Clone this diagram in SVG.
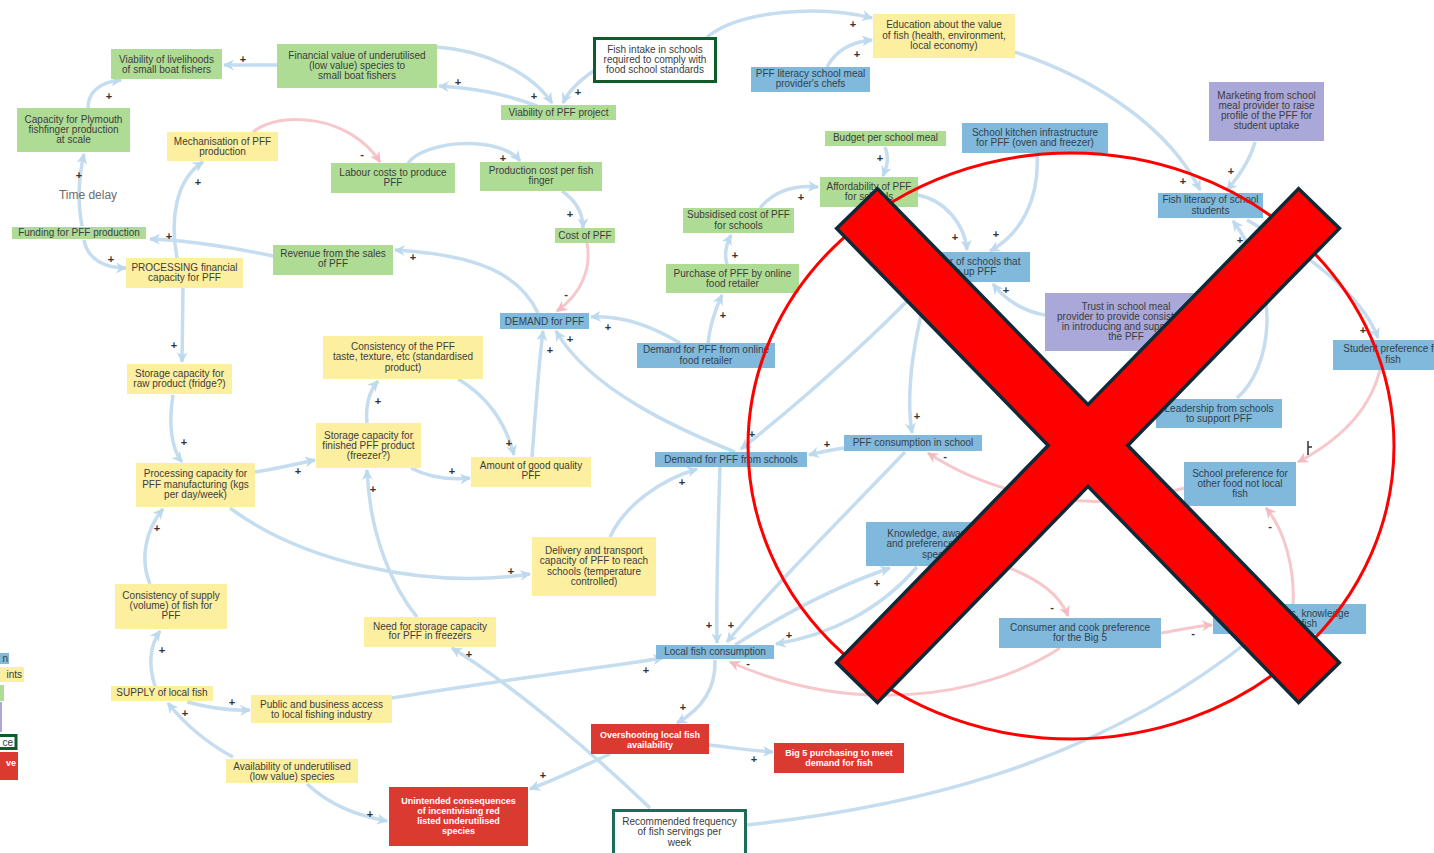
<svg xmlns="http://www.w3.org/2000/svg" width="1434" height="853" viewBox="0 0 1434 853">
<defs>
<style>
.g{fill:#afdc95}.y{fill:#fcefa0}.b{fill:#80b9db}.p{fill:#aaa8d8}.r{fill:#db3a31}
.t{font-family:"Liberation Sans",Arial,sans-serif;font-size:10px;fill:#3c3c3c;text-anchor:middle}
.tb{fill:#33414d}
.w{fill:#fff;font-weight:bold;font-size:9px}
.c{fill:none;stroke:#c5ddef;stroke-width:3.5}
.n{fill:none;stroke:#f6c8cc;stroke-width:3}
.s{font-family:"Liberation Sans",Arial,sans-serif;font-size:11px;fill:#333;text-anchor:middle;font-weight:bold}
</style>
<marker id="ab" viewBox="0 0 10 10" refX="9" refY="5" markerWidth="11" markerHeight="11" markerUnits="userSpaceOnUse" orient="auto"><path d="M0,0 L10,5 L0,10 L3,5 z" fill="#bcd9ee"/></marker>
<marker id="ap" viewBox="0 0 10 10" refX="9" refY="5" markerWidth="11" markerHeight="11" markerUnits="userSpaceOnUse" orient="auto"><path d="M0,0 L10,5 L0,10 L3,5 z" fill="#f4bcc2"/></marker>
</defs>
<rect width="1434" height="853" fill="#fff"/>

<g id="connectors">
<g class="c" marker-end="url(#ab)">
<path d="M277,65 L224,65"/>
<path d="M88,108 C88,92 100,82 121,80"/>
<path d="M82,226 C78,205 78,180 84,154"/>
<path d="M84,240 C88,260 105,268 126,268"/>
<path d="M273,256 C220,245 185,240 150,239"/>
<path d="M177,258 C170,220 175,180 203,162"/>
<path d="M408,163 C425,140 500,135 520,161"/>
<path d="M562,191 C575,200 583,212 583,228"/>
<path d="M538,313 C520,275 480,255 395,250"/>
<path d="M537,106 C500,92 470,88 439,86"/>
<path d="M437,47 C480,50 530,70 552,103"/>
<path d="M595,70 C580,80 568,92 563,103"/>
<path d="M707,37 C740,10 820,5 872,18"/>
<path d="M827,67 C835,52 850,42 872,40"/>
<path d="M1015,52 C1100,80 1170,130 1200,190"/>
<path d="M1255,142 C1250,160 1240,175 1227,190"/>
<path d="M885,147 C890,160 886,168 883,176"/>
<path d="M760,208 C775,190 795,185 818,187"/>
<path d="M727,264 C724,255 726,245 731,235"/>
<path d="M708,343 C710,325 715,310 722,295"/>
<path d="M680,343 C650,325 620,315 591,317"/>
<path d="M532,457 C535,420 538,370 543,331"/>
<path d="M735,452 C680,430 590,390 556,331"/>
<path d="M458,379 C485,395 505,420 514,455"/>
<path d="M367,423 C365,405 370,390 378,381"/>
<path d="M411,468 C430,478 450,480 470,478"/>
<path d="M255,472 C280,468 300,463 315,460"/>
<path d="M183,288 L182,362"/>
<path d="M173,395 C168,425 172,450 182,462"/>
<path d="M230,508 C300,560 420,590 530,574"/>
<path d="M417,617 C395,590 370,540 367,470"/>
<path d="M610,537 C625,505 660,480 697,469"/>
<path d="M150,584 C140,560 145,530 163,509"/>
<path d="M155,686 C148,665 150,645 160,631"/>
<path d="M187,702 C210,708 230,711 250,710"/>
<path d="M233,757 C210,745 185,725 168,703"/>
<path d="M307,784 C330,805 355,815 387,821"/>
<path d="M392,698 C500,680 600,668 663,658"/>
<path d="M650,808 C600,760 520,690 452,648"/>
<path d="M610,754 C585,765 560,778 530,789"/>
<path d="M709,745 C735,748 755,751 773,752"/>
<path d="M715,660 C716,690 700,710 677,723"/>
<path d="M720,467 C718,530 716,590 717,643"/>
<path d="M905,452 C840,520 770,590 727,642"/>
<path d="M925,283 C860,350 790,410 741,449"/>
<path d="M930,283 C915,330 905,390 912,433"/>
<path d="M918,195 C945,200 965,225 967,250"/>
<path d="M1037,153 C1040,200 1020,235 990,251"/>
<path d="M1045,315 C1025,312 1005,300 993,284"/>
<path d="M1237,398 C1270,370 1285,290 1233,221"/>
<path d="M1247,220 C1300,250 1360,290 1378,338"/>
<path d="M735,645 C790,610 840,585 890,568"/>
<path d="M917,567 C880,610 830,635 776,644"/>
<path d="M844,448 C830,450 820,452 809,455"/>
<path d="M747,825 C900,808 1090,770 1255,636"/>
</g>
<g class="n" marker-end="url(#ap)">
<path d="M253,132 C280,110 350,115 380,162"/>
<path d="M587,243 C592,270 580,295 557,311"/>
<path d="M1380,370 C1370,410 1340,440 1298,462"/>
<path d="M1293,604 C1295,570 1285,530 1266,508"/>
<path d="M1161,633 C1180,630 1195,626 1212,625"/>
<path d="M1007,567 C1040,580 1060,595 1068,616"/>
<path d="M1184,488 C1100,515 1000,500 928,453"/>
<path d="M1060,648 C980,700 850,715 730,662"/>
</g>
<g class="s">
<text x="243" y="63">+</text><text x="109" y="100">+</text><text x="79" y="179">+</text>
<text x="111" y="263">+</text><text x="169" y="240">+</text><text x="198" y="186">+</text>
<text x="503" y="162">+</text><text x="570" y="218">+</text><text x="413" y="261">+</text>
<text x="458" y="86">+</text><text x="534" y="100">+</text><text x="578" y="96">+</text>
<text x="853" y="28">+</text><text x="857" y="58">+</text><text x="1183" y="185">+</text>
<text x="1231" y="175">+</text><text x="880" y="162">+</text><text x="801" y="201">+</text>
<text x="735" y="259">+</text><text x="723" y="319">+</text><text x="608" y="331">+</text>
<text x="550" y="354">+</text><text x="570" y="343">+</text><text x="509" y="447">+</text>
<text x="378" y="405">+</text><text x="452" y="475">+</text><text x="298" y="475">+</text>
<text x="174" y="349">+</text><text x="184" y="446">+</text><text x="511" y="575">+</text>
<text x="373" y="493">+</text><text x="682" y="486">+</text><text x="157" y="532">+</text>
<text x="162" y="654">+</text><text x="232" y="706">+</text><text x="185" y="717">+</text>
<text x="370" y="818">+</text><text x="646" y="674">+</text><text x="469" y="658">+</text>
<text x="543" y="779">+</text><text x="754" y="763">+</text><text x="683" y="711">+</text>
<text x="709" y="629">+</text><text x="731" y="629">+</text><text x="752" y="438">+</text>
<text x="917" y="420">+</text><text x="955" y="241">+</text><text x="996" y="238">+</text>
<text x="1006" y="294">+</text><text x="1240" y="244">+</text><text x="1363" y="334">+</text>
<text x="877" y="587">+</text><text x="789" y="639">+</text><text x="827" y="448">+</text>
<text x="362" y="158">-</text><text x="566" y="298">-</text><text x="1270" y="530">-</text>
<text x="1193" y="637">-</text><text x="1052" y="611">-</text><text x="945" y="460">-</text>
<text x="748" y="667">-</text>
</g>
<path d="M1308,441 V455 M1308,447 H1312" stroke="#333" stroke-width="1.5" fill="none"/>
</g>

<g id="n-livelihoods"><rect class="g" x="111" y="49" width="111" height="30"/><text class="t" x="166.5" y="62.5">Viability of livelihoods<tspan x="166.5" dy="10">of small boat fishers</tspan></text></g>
<g id="n-financial"><rect class="g" x="277" y="44" width="160" height="44"/><text class="t" x="357" y="59">Financial value of underutilised<tspan x="357" dy="10">(low value) species to</tspan><tspan x="357" dy="10">small boat fishers</tspan></text></g>
<g id="n-capacity"><rect class="g" x="17" y="108" width="113" height="44"/><text class="t" x="73.5" y="123">Capacity for Plymouth<tspan x="73.5" dy="10">fishfinger production</tspan><tspan x="73.5" dy="10">at scale</tspan></text></g>
<g id="n-mechanisation"><rect class="y" x="167" y="132" width="111" height="29"/><text class="t" x="222.5" y="144.5">Mechanisation of PFF<tspan x="222.5" dy="10.5">production</tspan></text></g>
<g id="n-labour"><rect class="g" x="331" y="163" width="124" height="30"/><text class="t" x="393" y="176">Labour costs to produce<tspan x="393" dy="9.5">PFF</tspan></text></g>
<text id="time-delay" x="88" y="199" font-family="Liberation Sans, Arial, sans-serif" font-size="12" fill="#6c6c6c" text-anchor="middle">Time delay</text>
<g id="n-funding"><rect class="g" x="12" y="227" width="134" height="12"/><text class="t" x="79" y="236">Funding for PFF production</text></g>
<g id="n-revenue"><rect class="g" x="273" y="245" width="120" height="30"/><text class="t" x="333" y="257">Revenue from the sales<tspan x="333" dy="10">of PFF</tspan></text></g>
<g id="n-processing-fin"><rect class="y" x="126" y="258" width="117" height="30"/><text class="t" x="184.5" y="271">PROCESSING financial<tspan x="184.5" dy="10">capacity for PFF</tspan></text></g>
<g id="n-fish-intake"><rect x="594.5" y="38.5" width="121" height="43" fill="#fff" stroke="#0e5c2a" stroke-width="3"/><text class="t" x="655" y="52.5" fill="#555">Fish intake in schools<tspan x="655" dy="10">required to comply with</tspan><tspan x="655" dy="10">food school standards</tspan></text></g>
<g id="n-viability-pff"><rect class="g" x="501" y="105" width="115" height="15"/><text class="t" x="558.5" y="115.5">Viability of PFF project</text></g>
<g id="n-education"><rect class="y" x="873" y="14" width="142" height="44"/><text class="t" x="944" y="28">Education about the value<tspan x="944" dy="10.5">of fish (health, environment,</tspan><tspan x="944" dy="10.5">local economy)</tspan></text></g>
<g id="n-pff-literacy"><rect class="b" x="751" y="67" width="119" height="25"/><text class="t tb" x="810.5" y="77">PFF literacy school meal<tspan x="810.5" dy="10">provider's chefs</tspan></text></g>
<g id="n-budget"><rect class="g" x="825" y="131" width="121" height="15"/><text class="t" x="885.5" y="141">Budget per school meal</text></g>
<g id="n-production-cost"><rect class="g" x="480" y="162" width="122" height="29"/><text class="t" x="541" y="173.5">Production cost per fish<tspan x="541" dy="10.5">finger</tspan></text></g>
<g id="n-cost"><rect class="g" x="555" y="228" width="60" height="15"/><text class="t" x="585" y="239">Cost of PFF</text></g>
<g id="n-affordability"><rect class="g" x="820" y="177" width="98" height="30"/><text class="t" x="869" y="190">Affordability of PFF<tspan x="869" dy="9.5">for schools</tspan></text></g>
<g id="n-subsidised"><rect class="g" x="683" y="208" width="111" height="25"/><text class="t" x="738.5" y="218">Subsidised cost of PFF<tspan x="738.5" dy="10.5">for schools</tspan></text></g>
<g id="n-purchase"><rect class="g" x="666" y="264" width="133" height="29"/><text class="t" x="732.5" y="277">Purchase of PFF by online<tspan x="732.5" dy="9.5">food retailer</tspan></text></g>
<g id="n-kitchen"><rect class="b" x="962" y="123" width="146" height="30"/><text class="t tb" x="1035" y="136">School kitchen infrastructure<tspan x="1035" dy="10">for PFF (oven and freezer)</tspan></text></g>
<g id="n-marketing"><rect class="p" x="1209" y="82" width="115" height="59"/><text class="t" x="1266.5" y="98.5">Marketing from school<tspan x="1266.5" dy="10.3">meal provider to raise</tspan><tspan x="1266.5" dy="10.3">profile of the PFF for</tspan><tspan x="1266.5" dy="10.3">student uptake</tspan></text></g>
<g id="n-fish-literacy"><rect class="b" x="1158" y="193" width="105" height="25"/><text class="t tb" x="1210.5" y="203">Fish literacy of school<tspan x="1210.5" dy="10.5">students</tspan></text></g>
<g id="n-number-schools"><rect class="b" x="908" y="252" width="122" height="30"/><text class="t tb" x="969" y="264.5">Number of schools that<tspan x="969" dy="10.5">take up PFF</tspan></text></g>
<g id="n-trust"><rect class="p" x="1045" y="293" width="162" height="58"/><text class="t" x="1126" y="309.5">Trust in school meal<tspan x="1126" dy="10">provider to provide consistency</tspan><tspan x="1126" dy="10">in introducing and supporting</tspan><tspan x="1126" dy="10.5">the PFF</tspan></text></g>
<g id="n-student-pref"><rect class="b" x="1333" y="340" width="120" height="30"/><text class="t tb" x="1393" y="352">Student preference for<tspan x="1393" dy="10.5">fish</tspan></text></g>
<g id="n-leadership"><rect class="b" x="1156" y="399" width="126" height="29"/><text class="t tb" x="1219" y="412">Leadership from schools<tspan x="1219" dy="10">to support PFF</tspan></text></g>
<g id="n-school-pref"><rect class="b" x="1184" y="462" width="112" height="44"/><text class="t tb" x="1240" y="477">School preference for<tspan x="1240" dy="10">other food not local</tspan><tspan x="1240" dy="10">fish</tspan></text></g>
<g id="n-demand"><rect class="b" x="500" y="313" width="89" height="16"/><text class="t tb" x="544.5" y="324.5">DEMAND for PFF</text></g>
<g id="n-demand-online"><rect class="b" x="637" y="343" width="138" height="25"/><text class="t tb" x="706" y="353">Demand for PFF from online<tspan x="706" dy="10.5">food retailer</tspan></text></g>
<g id="n-amount"><rect class="y" x="471" y="457" width="120" height="30"/><text class="t" x="531" y="469">Amount of good quality<tspan x="531" dy="10">PFF</tspan></text></g>
<g id="n-demand-schools"><rect class="b" x="655" y="452" width="152" height="15"/><text class="t tb" x="731" y="462.5">Demand for PFF from schools</text></g>
<g id="n-consumption-school"><rect class="b" x="844" y="435" width="138" height="16"/><text class="t tb" x="913" y="446">PFF consumption in school</text></g>
<g id="n-delivery"><rect class="y" x="532" y="537" width="124" height="59"/><text class="t" x="594" y="553.5">Delivery and transport<tspan x="594" dy="10.5">capacity of PFF to reach</tspan><tspan x="594" dy="10.5">schools (temperature</tspan><tspan x="594" dy="10">controlled)</tspan></text></g>
<g id="n-storage-raw"><rect class="y" x="127" y="364" width="105" height="30"/><text class="t" x="179.5" y="376.5">Storage capacity for<tspan x="179.5" dy="10.5">raw product (fridge?)</tspan></text></g>
<g id="n-consistency-taste"><rect class="y" x="323" y="336" width="160" height="43"/><text class="t" x="403" y="350">Consistency of the PFF<tspan x="403" dy="10">taste, texture, etc (standardised</tspan><tspan x="403" dy="10.5">product)</tspan></text></g>
<g id="n-storage-finished"><rect class="y" x="316" y="423" width="105" height="45"/><text class="t" x="368.5" y="438.5">Storage capacity for<tspan x="368.5" dy="10">finished PFF product</tspan><tspan x="368.5" dy="10">(freezer?)</tspan></text></g>
<g id="n-processing-cap"><rect class="y" x="136" y="463" width="119" height="44"/><text class="t" x="195.5" y="477">Processing capacity for<tspan x="195.5" dy="10.5">PFF manufacturing (kgs</tspan><tspan x="195.5" dy="10">per day/week)</tspan></text></g>
<g id="n-consistency-supply"><rect class="y" x="115" y="584" width="112" height="45"/><text class="t" x="171" y="599">Consistency of supply<tspan x="171" dy="10">(volume) of fish for</tspan><tspan x="171" dy="9.5">PFF</tspan></text></g>
<g id="n-need-storage"><rect class="y" x="364" y="617" width="132" height="30"/><text class="t" x="430" y="629.5">Need for storage capacity<tspan x="430" dy="9.5">for PFF in freezers</tspan></text></g>
<g id="n-supply"><rect class="y" x="111" y="686" width="102" height="15"/><text class="t" x="162" y="695.5">SUPPLY of local fish</text></g>
<g id="n-public"><rect class="y" x="251" y="695" width="141" height="28"/><text class="t" x="321.5" y="707.5">Public and business access<tspan x="321.5" dy="10">to local fishing industry</tspan></text></g>
<g id="n-availability"><rect class="y" x="226" y="759" width="132" height="24"/><text class="t" x="292" y="770">Availability of underutilised<tspan x="292" dy="10">(low value) species</tspan></text></g>
<g id="n-unintended"><rect class="r" x="389" y="787" width="139" height="59"/><text class="t w" x="458.5" y="804">Unintended consequences<tspan x="458.5" dy="10">of incentivising red</tspan><tspan x="458.5" dy="10">listed underutilised</tspan><tspan x="458.5" dy="10">species</tspan></text></g>
<g id="n-local-consumption"><rect class="b" x="656" y="645" width="118" height="14"/><text class="t tb" x="715" y="655">Local fish consumption</text></g>
<g id="n-overshooting"><rect class="r" x="591" y="724" width="118" height="30"/><text class="t w" x="650" y="737.5">Overshooting local fish<tspan x="650" dy="10">availability</tspan></text></g>
<g id="n-big5"><rect class="r" x="774" y="743" width="130" height="30"/><text class="t w" x="839" y="755.5">Big 5 purchasing to meet<tspan x="839" dy="10.5">demand for fish</tspan></text></g>
<g id="n-recommended"><rect x="613.5" y="810.5" width="132" height="50" fill="#fff" stroke="#1d6b5b" stroke-width="3"/><text class="t" x="679.5" y="824.5" fill="#555">Recommended frequency<tspan x="679.5" dy="10.5">of fish servings per</tspan><tspan x="679.5" dy="10.5">week</tspan></text></g>
<g id="n-knowledge"><rect class="b" x="866" y="522" width="146" height="44"/><text class="t tb" x="939" y="537">Knowledge, awareness<tspan x="939" dy="10">and preference for local</tspan><tspan x="939" dy="10.5">species</tspan></text></g>
<g id="n-consumer-pref"><rect class="b" x="999" y="618" width="162" height="30"/><text class="t tb" x="1080" y="631">Consumer and cook preference<tspan x="1080" dy="10">for the Big 5</tspan></text></g>
<g id="n-skills"><rect class="b" x="1213" y="604" width="153" height="30"/><text class="t tb" x="1292" y="617">Cooking skills, knowledge<tspan x="1292" dy="9.5">of local fish</tspan></text></g>

<g id="legend-fragment">
<rect class="b" x="0" y="653" width="9" height="11"/><text class="t tb" x="8" y="662" style="text-anchor:end">n</text>
<rect class="y" x="0" y="667" width="24" height="15"/><text class="t" x="22" y="678" style="text-anchor:end">ints</text>
<rect class="g" x="0" y="685" width="4" height="16"/>
<rect class="p" x="0" y="702" width="2" height="30"/>
<rect x="-5" y="735.5" width="21" height="13" fill="#fff" stroke="#0e5c2a" stroke-width="3"/><text class="t" x="13" y="746" style="text-anchor:end">ce</text>
<rect class="r" x="0" y="752" width="18" height="28"/><text class="t w" x="16" y="766" style="text-anchor:end">ve</text>
</g>

<g id="overlay">
<ellipse cx="1071" cy="446" rx="323" ry="293" fill="none" stroke="#ff0000" stroke-width="3"/>
<polygon points="836.6,228.4 877.4,188.6 1088,404.6 1298.6,188.6 1339.4,228.4 1127.8,445.5 1339.4,662.6 1298.6,702.4 1088,486.4 877.4,702.4 836.6,662.6 1048.2,445.5" fill="#ff0000" stroke="#0f2a36" stroke-width="3.5" stroke-linejoin="miter"/>
</g>
</svg>
